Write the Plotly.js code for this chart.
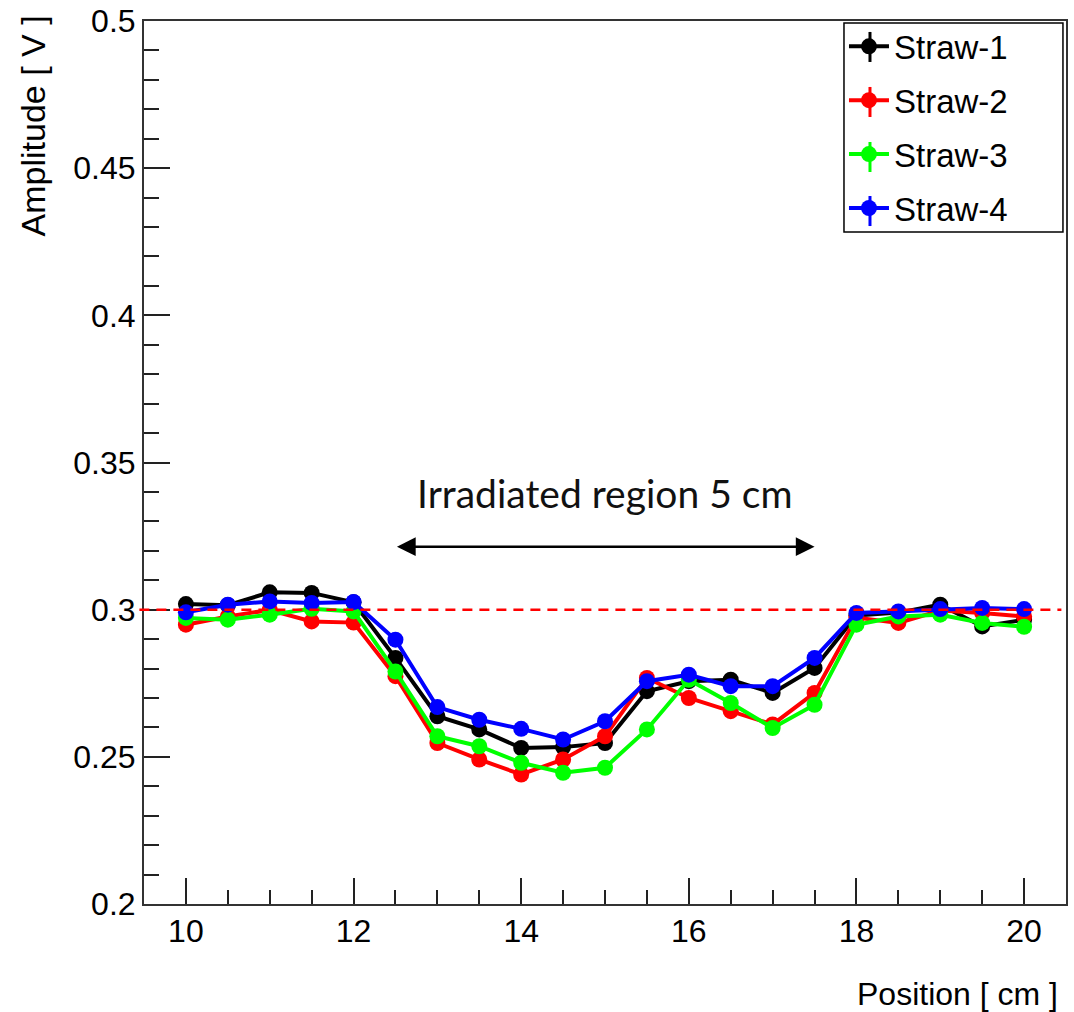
<!DOCTYPE html>
<html>
<head>
<meta charset="utf-8">
<script src="https://cdn.plot.ly/plotly-3.0.1.min.js"></script>
<style>html,body{margin:0;padding:0;background:#fff;}#chart{width:1074px;height:1012px;}</style>
</head>
<body>
<div id="chart"></div>
<script>
const positions = [10, 10.5, 11, 11.5, 12, 12.5, 13, 13.5, 14, 14.5, 15, 15.5, 16, 16.5, 17, 17.5, 18, 18.5, 19, 19.5, 20];
const straw1 = [0.3019, 0.3015, 0.3059, 0.3057, 0.3025, 0.2836, 0.2638, 0.2593, 0.2530, 0.2533, 0.2547, 0.2723, 0.2757, 0.2762, 0.2717, 0.2802, 0.2980, 0.2990, 0.3017, 0.2943, 0.2966];
const straw2 = [0.2949, 0.2977, 0.2999, 0.2960, 0.2956, 0.2774, 0.2547, 0.2491, 0.2440, 0.2491, 0.2570, 0.2768, 0.2700, 0.2655, 0.2610, 0.2717, 0.2973, 0.2955, 0.2997, 0.2989, 0.2977];
const straw3 = [0.2972, 0.2966, 0.2983, 0.3003, 0.2994, 0.2790, 0.2570, 0.2536, 0.2480, 0.2446, 0.2463, 0.2593, 0.2762, 0.2683, 0.2598, 0.2677, 0.2949, 0.2977, 0.2983, 0.2955, 0.2942];
const straw4 = [0.2991, 0.3017, 0.3028, 0.3023, 0.3026, 0.2898, 0.2669, 0.2626, 0.2595, 0.2559, 0.2621, 0.2757, 0.2779, 0.2740, 0.2740, 0.2836, 0.2989, 0.2994, 0.3002, 0.3006, 0.3002];
const seriesNames = ['Straw-1', 'Straw-2', 'Straw-3', 'Straw-4'];
const seriesColors = ['#000000', '#ff0000', '#00ff00', '#0000ff'];
const referenceLevel = 0.3;
const regionStart = 12.5;
const regionEnd = 17.5;
const regionArrowY = 0.3214;
const regionLabel = 'Irradiated region 5 cm';
const regionLabelY = 0.3397;

const allSeries = [straw1, straw2, straw3, straw4];
const traces = allSeries.map((ys, i) => ({
  type: 'scatter',
  mode: 'lines+markers',
  x: positions,
  y: ys,
  name: seriesNames[i],
  legendgroup: 'g' + i,
  line: {color: seriesColors[i], width: 4},
  marker: {color: seriesColors[i], size: 16, symbol: 'circle', line: {width: 0}}
}));

const ARIAL = '"Liberation Sans", Arial, sans-serif';
const tickFont = {family: ARIAL, size: 32, color: '#000'};

// vertical error-bar strokes of the legend symbols (ROOT "lep" style)
const legendBarY = [0.9706, 0.9083, 0.8460, 0.7848];
const legendBars = seriesColors.map((c, i) => ({
  type: 'line', xref: 'paper', yref: 'paper',
  x0: 0.7874, x1: 0.7874, y0: legendBarY[i] - 0.017, y1: legendBarY[i] + 0.017,
  line: {color: c, width: 3}, layer: 'above'
}));

const layout = {
  width: 1074,
  height: 1012,
  margin: {l: 144, r: 8, t: 21, b: 108, pad: 0},
  paper_bgcolor: '#fff',
  plot_bgcolor: '#fff',
  showlegend: true,
  legend: {
    x: 0.7592, xanchor: 'left', y: 1.003, yanchor: 'top',
    borderwidth: 0, bgcolor: 'rgba(0,0,0,0)',
    font: {family: ARIAL, size: 33, color: '#000'},
    itemwidth: 40, tracegroupgap: 8, traceorder: 'grouped'
  },
  xaxis: {
    range: [9.5, 20.5],
    dtick: 2, tick0: 10,
    ticks: 'inside', ticklen: 26, tickwidth: 2, tickcolor: '#222',
    minor: {dtick: 0.5, ticks: 'inside', ticklen: 14, tickwidth: 2, tickcolor: '#222', showgrid: false},
    showgrid: false, zeroline: false,
    showline: true, mirror: true, linecolor: '#333', linewidth: 2,
    tickfont: tickFont, ticklabelstandoff: -2
  },
  yaxis: {
    range: [0.2, 0.5],
    dtick: 0.05, tick0: 0.2,
    ticks: 'inside', ticklen: 26, tickwidth: 2, tickcolor: '#222',
    minor: {dtick: 0.01, ticks: 'inside', ticklen: 15, tickwidth: 2, tickcolor: '#222', showgrid: false},
    showgrid: false, zeroline: false,
    showline: true, mirror: true, linecolor: '#333', linewidth: 2,
    tickfont: tickFont, ticklabelstandoff: 0
  },
  shapes: [
    {
      type: 'line', xref: 'paper', yref: 'y',
      x0: -0.005, x1: 0.995, y0: referenceLevel, y1: referenceLevel,
      line: {color: '#ff0000', width: 2.5, dash: '10px,7px'},
      layer: 'above'
    },
    {
      type: 'rect', xref: 'paper', yref: 'paper',
      x0: 0.7592, x1: 0.9967, y0: 0.761, y1: 0.9977,
      line: {color: '#000', width: 1.5}, fillcolor: '#fff',
      layer: 'above'
    }
  ].concat(legendBars),
  annotations: [
    {
      xref: 'x', yref: 'y', x: (regionStart + regionEnd) / 2, y: regionLabelY,
      text: regionLabel, showarrow: false,
      font: {family: 'Lato, Carlito, Calibri, sans-serif', size: 39, color: '#111'}
    },
    {
      xref: 'x', yref: 'y', axref: 'x', ayref: 'y',
      x: regionEnd, y: regionArrowY, ax: regionStart, ay: regionArrowY,
      text: '', showarrow: true, arrowside: 'end+start',
      arrowhead: 2, arrowsize: 1.5, arrowwidth: 2.5, arrowcolor: '#000', standoff: 0, startstandoff: 0
    },
    {
      xref: 'paper', yref: 'paper', x: 0.0, y: 1.008,
      xanchor: 'center', yanchor: 'top', xshift: -111,
      text: 'Amplitude [ V ]', textangle: -90, showarrow: false,
      font: {family: ARIAL, size: 34, color: '#000'}
    },
    {
      xref: 'paper', yref: 'paper', x: 0.9935, y: 0,
      xanchor: 'right', yanchor: 'middle', yshift: -90,
      text: 'Position [ cm ]', showarrow: false,
      font: {family: ARIAL, size: 32, color: '#000'}
    }
  ]
};

Plotly.newPlot('chart', traces, layout, {displayModeBar: false, staticPlot: true});
</script>
</body>
</html>
